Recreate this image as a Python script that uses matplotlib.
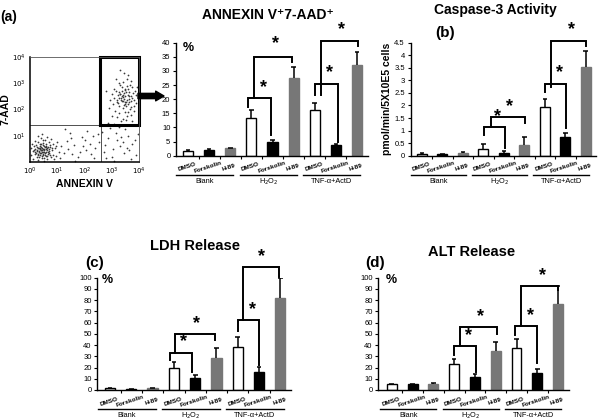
import matplotlib
matplotlib.use('Agg')
import matplotlib.pyplot as plt
import numpy as np

plt.rcParams['font.family'] = ['Liberation Sans', 'DejaVu Sans']

W, H = 600, 420

# ---- data ----
treatments = ['DMSO', 'Forskolin', 'H-89']
groups = ['Blank', 'H$_2$O$_2$', 'TNF-α+ActD']

annexin_vals = [1.8, 2.0, 2.6, 13.5, 4.8, 27.5, 16.2, 3.9, 32.0]
annexin_err = [0.3, 0.3, 0.3, 2.7, 0.9, 3.8, 2.3, 0.2, 4.6]

caspase_vals = [0.08, 0.05, 0.10, 0.27, 0.12, 0.42, 1.93, 0.76, 3.55]
caspase_err = [0.03, 0.02, 0.03, 0.18, 0.08, 0.31, 0.31, 0.13, 0.62]

ldh_vals = [1.5, 1.0, 1.5, 19.5, 11.0, 28.2, 38.0, 16.3, 82.0]
ldh_err = [0.5, 0.3, 0.5, 5.0, 2.4, 8.9, 9.5, 4.5, 18.0]

alt_vals = [5.0, 5.0, 5.0, 23.2, 12.0, 34.7, 37.0, 14.8, 76.3]
alt_err = [0.3, 0.3, 0.8, 4.1, 2.2, 8.3, 8.0, 3.6, 16.6]

# significance brackets: (left x, right x, top, left leg bottom, right leg bottom)
annexin_sig = [(2.82, 3.94, 20.3, 17.3, 7.5), (3.14, 4.94, 35.0, 20.3, 33.3),
               (6.0, 7.08, 25.4, 21.5, 5.0), (6.29, 8.04, 40.7, 21.5, 38.8)]
annexin_stars = [(3.55, 22.0), (4.14, 37.3), (6.68, 27.2), (7.27, 42.6)]

caspase_sig = [(3.02, 4.05, 1.13, 0.82, 0.29), (3.37, 5.05, 1.53, 1.13, 1.31),
               (6.01, 7.05, 2.86, 2.55, 1.09), (6.3, 8.02, 4.58, 2.72, 4.37)]
caspase_stars = [(3.7, 1.3), (4.3, 1.72), (6.72, 3.05), (7.3, 4.77)]

ldh_sig = [(2.82, 3.86, 33.2, 26.7, 16.3), (3.05, 4.94, 49.9, 33.2, 44.5),
           (6.0, 7.0, 62.3, 52.8, 22.0), (6.24, 7.95, 109.8, 62.3, 101.0)]
ldh_stars = [(3.47, 37.5), (4.07, 54.0), (6.69, 66.0), (7.12, 113.5)]

alt_sig = [(3.0, 4.05, 39.2, 31.2, 16.0), (3.28, 5.05, 55.8, 39.2, 49.9),
           (5.93, 7.0, 57.0, 49.0, 24.0), (6.2, 8.01, 92.6, 57.0, 89.0)]
alt_stars = [(3.68, 43.0), (4.28, 60.0), (6.65, 61.0), (7.26, 96.5)]

# flow cytometry dots, log10 units (ANNEXIN V, 7-AAD)
live_x = [0.45, 0.30, 0.52, 0.38, 0.61, 0.22, 0.48, 0.70, 0.35, 0.57, 0.15, 0.43, 0.66, 0.28, 0.80,
          0.50, 0.33, 0.42, 0.58, 0.25, 0.72, 0.10, 0.55, 0.47, 0.36, 0.63, 0.20, 0.85, 0.40, 0.53,
          0.05, 0.31, 0.68, 0.45, 0.92, 0.18, 0.76, 0.39, 0.60, 0.27, 1.05, 0.50, 0.12, 0.83, 0.44,
          0.57, 0.34, 0.70, 0.23, 0.95, 1.15, 0.62, 0.08, 0.48, 0.37, 0.78, 1.25, 0.30, 0.54, 0.65,
          1.40, 0.17, 0.88, 0.41, 1.00, 0.59, 0.26, 0.73, 0.46, 0.14, 1.55, 0.35, 0.51, 0.81, 1.10,
          0.03, 0.67, 0.43, 0.97, 0.29, 0.41, 0.56, 0.33, 0.49, 0.62, 0.24, 0.39, 0.52, 0.46, 0.58,
          0.28, 0.71, 0.36, 0.44, 0.19, 0.54, 0.64, 0.32, 0.47, 0.75]
live_y = [0.40, 0.55, 0.62, 0.28, 0.47, 0.35, 0.71, 0.33, 0.48, 0.22, 0.60, 0.15, 0.58, 0.75, 0.45,
          0.50, 0.40, 0.58, 0.38, 0.20, 0.65, 0.42, 0.85, 0.30, 0.62, 0.12, 0.50, 0.28, 0.92, 0.44,
          0.25, 0.08, 0.78, 0.55, 0.55, 0.80, 0.18, 0.36, 0.68, 0.43, 0.40, 0.05, 0.12, 0.70, 0.47,
          0.56, 0.18, 0.50, 0.66, 0.22, 0.60, 0.95, 0.70, 0.38, 0.52, 0.88, 0.35, 0.98, 0.28, 0.40,
          0.50, 0.30, 0.10, 0.68, 0.75, 0.60, 0.58, 0.25, 0.82, 0.45, 0.30, 0.33, 0.16, 0.55, 0.15,
          0.55, 0.30, 1.05, 0.62, 0.25, 0.44, 0.34, 0.52, 0.26, 0.53, 0.46, 0.45, 0.37, 0.64, 0.49,
          0.31, 0.41, 0.69, 0.23, 0.39, 0.57, 0.21, 0.43, 0.49, 0.59]

tail_x = [1.35, 1.60, 1.75, 1.90, 2.05, 2.20, 2.35, 2.50, 1.45, 1.85, 2.10, 2.40, 1.65, 2.00, 2.25,
          1.30, 2.55, 1.95, 1.50, 2.30, 2.70, 2.85, 3.00, 3.15, 3.30, 3.45, 3.60, 3.75, 3.90, 2.95,
          3.20, 3.50, 3.70, 2.75, 3.05, 3.35, 3.85, 2.65, 3.55, 3.10, 3.25, 3.65, 2.80, 3.40, 3.95,
          2.85, 3.10, 3.75, 3.30, 2.80, 3.95]
tail_y = [0.80, 0.65, 0.20, 0.95, 0.45, 0.70, 0.15, 1.05, 1.10, 0.40, 1.20, 0.55, 0.05, 0.85, 0.30,
          1.25, 0.75, 0.60, 0.90, 1.00, 0.40, 0.90, 0.20, 1.10, 0.60, 0.35, 1.00, 0.70, 0.25, 1.30,
          0.85, 1.25, 0.10, 0.65, 0.50, 0.95, 0.85, 1.15, 0.55, 0.05, 1.35, 0.45, 0.15, 0.75, 1.05,
          1.50, 1.45, 1.55, 3.50, 2.70, 1.40]

dead_x = [3.45, 3.30, 3.60, 3.50, 3.20, 3.70, 3.40, 3.55, 3.35, 3.65, 3.15, 3.80, 3.48, 3.25, 3.58,
          3.42, 3.72, 3.10, 3.52, 3.38, 3.85, 3.28, 3.62, 3.46, 3.05, 3.75, 3.33, 3.55, 3.68, 3.22,
          3.90, 3.44, 3.57, 3.12, 3.80, 3.36, 3.63, 3.00, 3.49, 3.27, 3.71, 3.40, 3.60, 3.18, 3.53,
          3.88, 3.31, 3.66, 3.08, 3.47, 2.95, 3.78, 3.35, 3.58, 3.24, 3.93, 3.43, 3.70, 2.90, 3.52,
          3.15, 3.83, 3.38, 3.61, 3.28, 3.74, 3.02, 3.50, 3.45, 3.20, 3.41, 3.56, 3.32, 3.64, 3.47,
          3.37, 3.53, 3.26, 3.69, 3.43]
dead_y = [2.40, 2.60, 2.20, 2.75, 2.30, 2.50, 2.05, 2.90, 2.45, 2.65, 2.70, 2.35, 1.90, 2.15, 2.55,
          3.05, 2.10, 2.45, 2.30, 2.85, 2.70, 1.85, 2.40, 2.62, 2.20, 2.85, 2.35, 1.75, 2.95, 2.55,
          2.25, 2.18, 3.15, 1.95, 1.95, 2.72, 2.28, 2.60, 2.50, 3.00, 1.80, 1.65, 2.80, 2.38, 2.12,
          2.55, 2.95, 2.02, 2.80, 2.78, 2.35, 2.62, 1.55, 3.30, 2.25, 2.85, 2.32, 3.10, 2.05, 1.60,
          3.15, 2.15, 2.52, 1.90, 2.68, 2.42, 1.75, 2.22, 3.40, 1.70, 2.48, 2.36, 2.58, 2.52, 2.27,
          2.33, 2.67, 2.43, 2.32, 2.56]

bar_colors = ['white', 'black', '#777777']
bar_edges = ['black', 'black', '#777777']

fig = plt.figure(figsize=(6, 4.2), dpi=100)


def add_ax(left, right, top, bottom):
    return fig.add_axes([left / W, 1 - bottom / H, (right - left) / W, (bottom - top) / H])


def ftext(px, py, s, **kw):
    fig.text(px / W, 1 - py / H, s, **kw)


def bar_panel(ax, vals, errs, ymax, ystep, sig, stars, xlo):
    x = np.arange(len(vals))
    vals = np.array(vals)
    tops = vals + np.array(errs)
    ax.bar(x, vals, width=0.48, color=bar_colors * 3, edgecolor=bar_edges * 3, linewidth=1.0)
    ax.vlines(x, vals, tops, color='black', lw=1.1)
    ax.hlines(tops, x - 0.11, x + 0.11, color='black', lw=1.1)
    for xl, xr, top, lb, rb in sig:
        ax.plot([xl, xl, xr, xr], [lb, top, top, rb], color='black', lw=1.4, clip_on=False,
                solid_joinstyle='miter')
    for sx, sy in stars:
        ax.annotate('*', (sx, sy), xytext=(0, 4.5), textcoords='offset points',
                    ha='center', va='center', fontsize=13, fontweight='bold', annotation_clip=False)
    ax.set_xlim(xlo, 8.5)
    ax.set_ylim(0, ymax)
    yt = np.arange(0, ymax + ystep / 2, ystep)
    ax.set_yticks(yt)
    ax.set_yticklabels([f'{v:g}' for v in yt], fontsize=5.5)
    ax.set_xticks(np.arange(0.5, 8, 1))
    ax.set_xticklabels([])
    ax.tick_params(axis='y', length=2.5, width=0.8, pad=1.5)
    ax.tick_params(axis='x', length=2.5, width=0.8)
    for side in ['top', 'right']:
        ax.spines[side].set_visible(False)
    for side in ['left', 'bottom']:
        ax.spines[side].set_linewidth(1.0)
    tr = ax.get_xaxis_transform()
    for i in range(9):
        ax.text(i - 0.05, -0.10, treatments[i % 3], transform=tr, rotation=18,
                ha='center', va='center', fontsize=4.6, fontweight='bold')
    for g in range(3):
        ax.plot([g * 3 - 0.55, g * 3 + 2.15], [-0.172, -0.172], transform=tr,
                color='black', lw=1.0, clip_on=False)
        ax.text(g * 3 + 0.8, -0.228, groups[g], transform=tr, ha='center', va='center',
                fontsize=5.3)


# (a) flow cytometry
axf = add_ax(30, 139, 57, 162)
axf.scatter(10 ** np.array(live_x + tail_x + dead_x), 10 ** np.array(live_y + tail_y + dead_y),
            s=1.6, color='#3a3a3a', linewidths=0)
axf.set_xscale('log')
axf.set_yscale('log')
axf.set_xlim(1, 1e4)
axf.set_ylim(1, 1e4)
axf.set_xticks([1, 10, 100, 1e3, 1e4])
axf.set_xticklabels(['$10^{%d}$' % k for k in range(5)], fontsize=5)
axf.set_yticks([10, 100, 1e3, 1e4])
axf.set_yticklabels(['$10^{%d}$' % k for k in range(1, 5)], fontsize=5)
axf.minorticks_off()
axf.tick_params(length=0, pad=3)
for side in ['top', 'right']:
    axf.spines[side].set_linewidth(0.6)
    axf.spines[side].set_color('#555555')
for side in ['left', 'bottom']:
    axf.spines[side].set_linewidth(1.1)
gx, gy = 10 ** 2.6, 10 ** 1.42
axf.axvline(gx, color='#333333', lw=0.6)
axf.axhline(gy, color='#333333', lw=0.6)
axf.plot([10 ** 2.57, 10 ** 2.57, 1e4, 1e4, 10 ** 2.57], [gy, 1e4, 1e4, gy, gy],
         color='black', lw=2.2, clip_on=False, solid_joinstyle='miter')
axf.set_xlabel('ANNEXIN V', fontsize=7.5, fontweight='bold', labelpad=1)
axf.set_ylabel('7-AAD', fontsize=7.5, fontweight='bold', labelpad=1)
axf.annotate('', xy=(164 / W, 1 - 96 / H), xycoords='figure fraction',
             xytext=(138 / W, 1 - 96 / H), textcoords='figure fraction',
             arrowprops=dict(arrowstyle='simple,head_width=0.7,head_length=0.6,tail_width=0.38',
                             color='black', shrinkA=0, shrinkB=0))

# ANNEXIN V+7-AAD+
ax1 = add_ax(176, 367.6, 42.7, 155.7)
bar_panel(ax1, annexin_vals, annexin_err, 40, 5, annexin_sig, annexin_stars, -0.57)

# (b) caspase-3
ax2 = add_ax(410.5, 596, 42.7, 155.7)
bar_panel(ax2, caspase_vals, caspase_err, 4.5, 0.5, caspase_sig, caspase_stars, -0.55)
ax2.set_ylabel('pmol/min/5X10E5 cells', fontsize=7.5, fontweight='bold', labelpad=2)

# (c) LDH
ax3 = add_ax(97.2, 291, 277.7, 390)
bar_panel(ax3, ldh_vals, ldh_err, 100, 10, ldh_sig, ldh_stars, -0.6)

# (d) ALT
ax4 = add_ax(378.2, 568.5, 277.7, 390)
bar_panel(ax4, alt_vals, alt_err, 100, 10, alt_sig, alt_stars, -0.65)

# titles and panel letters
ftext(267.5, 15, 'ANNEXIN V⁺7-AAD⁺', fontsize=10, fontweight='bold', ha='center', va='center')
ftext(495, 10, 'Caspase-3 Activity', fontsize=10, fontweight='bold', ha='center', va='center')
ftext(195.5, 246.5, 'LDH Release', fontsize=10.5, fontweight='bold', ha='center', va='center')
ftext(471.5, 251.5, 'ALT Release', fontsize=10.5, fontweight='bold', ha='center', va='center')
ftext(0, 17, '(a)', fontsize=10, fontweight='bold', ha='left', va='center')
ftext(435, 33.5, '(b)', fontsize=11, fontweight='bold', ha='left', va='center')
ftext(85, 263.5, '(c)', fontsize=11, fontweight='bold', ha='left', va='center')
ftext(365, 263.5, '(d)', fontsize=11, fontweight='bold', ha='left', va='center')
ftext(183, 48, '%', fontsize=9, fontweight='bold', ha='left', va='center')
ftext(102, 280, '%', fontsize=9, fontweight='bold', ha='left', va='center')
ftext(386, 280, '%', fontsize=9, fontweight='bold', ha='left', va='center')

fig.savefig('out.png', dpi=100)
